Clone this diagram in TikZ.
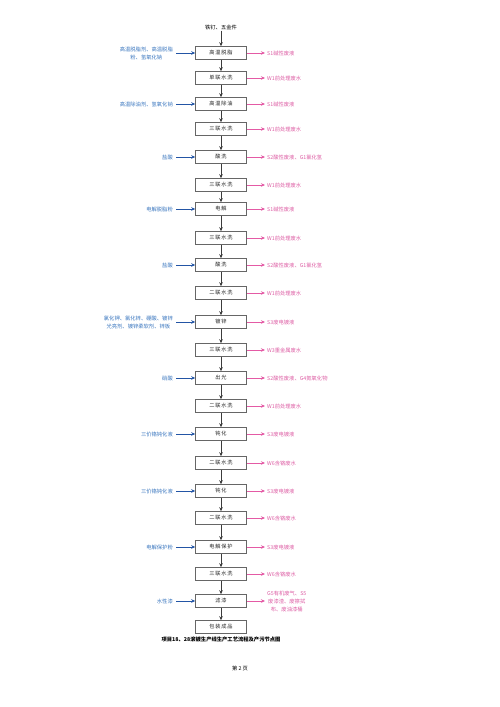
\documentclass[tikz,border=0pt]{standalone}
\usepackage{fontspec}
\newfontfamily\cjk{Noto Sans CJK SC}
\newfontfamily\cjkbox{Noto Sans CJK SC}[LetterSpace=15]
\usetikzlibrary{arrows.meta}
\definecolor{inblue}{RGB}{35,85,165}
\definecolor{intext}{RGB}{60,120,192}
\definecolor{outpink}{RGB}{228,90,165}
\definecolor{outtext}{RGB}{222,95,165}
\definecolor{flowgray}{RGB}{60,60,60}
\tikzset{
  stepbox/.style={draw=black!60, line width=0.5pt, minimum width=51pt, minimum height=13pt, inner sep=0pt, text=black!85, font=\cjkbox\fontsize{5.2}{6}\selectfont},
  inlabel/.style={anchor=east, text=intext, align=center, inner sep=1pt, font=\cjk\fontsize{5.3}{8}\selectfont},
  outlabel/.style={anchor=west, text=outtext, align=left, inner sep=1pt, font=\cjk\fontsize{5.3}{6}\selectfont},
  flow/.style={draw=flowgray, line width=0.8pt, -{Stealth[length=4pt,width=3.5pt]}},
  inarrow/.style={draw=inblue, line width=0.7pt, -{Stealth[length=4pt,width=3.5pt]}, shorten <=2pt},
  outarrow/.style={draw=outpink, line width=0.6pt, -{Stealth[length=4pt,width=3.5pt]}, shorten >=1pt}
}
\begin{document}
\begin{tikzpicture}[x=1pt,y=-1pt]
\fill[white] (0,0) rectangle (500,707);
\useasboundingbox (0,0) rectangle (500,707);
\node[font=\cjk\fontsize{5.3}{6}\selectfont, inner sep=1pt] (top) at (221,27) {铁钉、五金件};
\foreach \i/\y/\t in {1/53/高温脱脂,2/78/单联水洗,3/104/高温除油,4/129/三联水洗,5/157/酸洗,6/185/三联水洗,7/209/电解,8/238/三联水洗,9/265/酸洗,10/293/二联水洗,11/322/镀锌,12/350/三联水洗,13/378/出光,14/406/二联水洗,15/434/钝化,16/463/二联水洗,17/491/钝化,18/518/二联水洗,19/547/电解保护,20/574/三联水洗,21/601/滤漆,22/627/包装成品}
  {\node[stepbox] (b\i) at (221,\y) {\t};}
\draw[flow] (top) -- (b1);
\foreach \i [evaluate=\i as \j using int(\i+1)] in {1,...,21}
  {\draw[flow] (b\i) -- (b\j);}
% inputs
\foreach \i/\t in {1/{高温脱脂剂、高温脱脂\\粉、氢氧化钠},3/高温除油剂、氢氧化钠,5/盐酸,7/电解脱脂粉,9/盐酸,11/{氯化钾、氯化锌、硼酸、镀锌\\光亮剂、镀锌柔软剂、锌板},13/硝酸,15/三价铬钝化液,17/三价铬钝化液,19/电解保护粉,21/水性漆}
  {\node[inlabel] (L\i) at (b\i.west -| 174,0) {\t};
   \draw[inarrow] (L\i.east) -- (b\i.west);}
% outputs
\foreach \i/\t in {1/S1碱性废液,2/W1前处理废水,3/S1碱性废液,4/W1前处理废水,5/S2酸性废液、G1氯化氢,6/W1前处理废水,7/S1碱性废液,8/W1前处理废水,9/S2酸性废液、G1氯化氢,10/W1前处理废水,11/S3废电镀液,12/W3重金属废水,13/S2酸性废液、G4氮氧化物,14/W1前处理废水,15/S3废电镀液,16/W6含铬废水,17/S3废电镀液,18/W6含铬废水,19/S3废电镀液,20/W6含铬废水}
  {\node[outlabel] (R\i) at (b\i.east -| 266,0) {\t};
   \draw[outarrow] (b\i.east) -- (R\i.west);}
\node[outlabel, align=center, font=\cjk\fontsize{5.3}{8}\selectfont] (R21) at (b21.east -| 266,0) {G5有机废气、S5\\废漆渣、废擦拭\\布、废油漆桶};
\draw[outarrow] (b21.east) -- (R21.west);
\node[font=\cjk\bfseries\fontsize{5.3}{6}\selectfont, inner sep=1pt] (cap) at (221,639) {项目18、28滚镀生产线生产工艺流程及产污节点图};
\node[font=\cjk\fontsize{5.3}{6}\selectfont, inner sep=1pt] (page) at (240,668) {第 2 页};
\end{tikzpicture}
\end{document}
